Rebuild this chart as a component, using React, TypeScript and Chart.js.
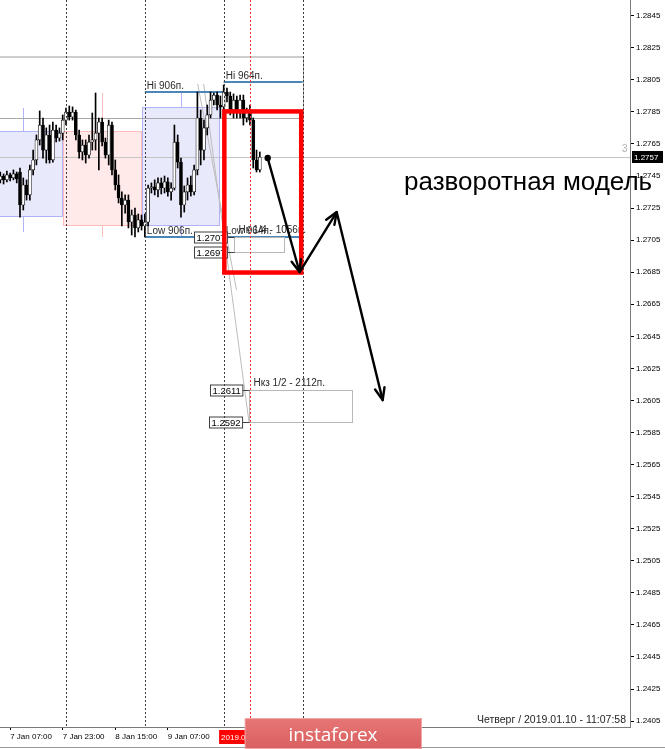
import React, { useEffect, useRef } from 'react';
import { Chart, registerables } from 'chart.js';

Chart.register(...registerables);

// Hourly GBPUSD bars; hours are counted from 7 Jan 2019 00:00
const barHours = [
  4, 5, 6, 7, 8, 9, 10, 11, 12, 13,
  14, 15, 16, 17, 18, 19, 20, 21, 22, 23,
  24, 25, 26, 27, 28, 29, 30, 31, 32, 33,
  34, 35, 36, 37, 38, 39, 40, 41, 42, 43,
  44, 45, 46, 47, 48, 49, 50, 51, 52, 53,
  54, 55, 56, 57, 58, 59, 60, 61, 62, 63,
  64, 65, 66, 67, 68, 69, 70, 71, 72, 73,
  74, 75, 76, 77, 78, 79, 80, 81, 82, 83,
];
const barOpen = [
  1.27426, 1.2745, 1.27426, 1.27457, 1.27438, 1.27463, 1.27475, 1.27269, 1.27394, 1.27332,
  1.27488, 1.2755, 1.27675, 1.27768, 1.27612, 1.27706, 1.2755, 1.27737, 1.27687, 1.27718,
  1.27799, 1.27849, 1.27818, 1.27849, 1.27706, 1.276, 1.27643, 1.27581, 1.27662, 1.27675,
  1.27718, 1.27787, 1.27662, 1.27581, 1.27768, 1.27488, 1.27394, 1.27313, 1.27269, 1.273,
  1.27163, 1.27207, 1.27126, 1.27176, 1.27138, 1.27163, 1.27375, 1.27382, 1.27363, 1.27407,
  1.27375, 1.27413, 1.27351, 1.27375, 1.27662, 1.27537, 1.27269, 1.27351, 1.27394, 1.27351,
  1.27488, 1.27812, 1.27612, 1.2775, 1.27831, 1.27924, 1.27955, 1.27893, 1.27881, 1.27974,
  1.27949, 1.27862, 1.27924, 1.27849, 1.27924, 1.27812, 1.27849, 1.27799, 1.2755, 1.27488,
];
const barHigh = [
  1.27475, 1.27463, 1.27481, 1.27469, 1.27488, 1.27475, 1.275, 1.27438, 1.27426, 1.27519,
  1.27612, 1.27706, 1.27856, 1.27812, 1.2775, 1.27768, 1.27787, 1.27768, 1.2775, 1.27831,
  1.27874, 1.27887, 1.27881, 1.27862, 1.27737, 1.27675, 1.27675, 1.27706, 1.27843, 1.27968,
  1.27812, 1.27812, 1.27687, 1.27799, 1.27787, 1.2755, 1.27457, 1.27351, 1.27332, 1.27332,
  1.27238, 1.2725, 1.27213, 1.27207, 1.27213, 1.27394, 1.27407, 1.27426, 1.27438, 1.27438,
  1.2745, 1.27438, 1.27407, 1.27768, 1.27706, 1.27562, 1.27388, 1.27438, 1.2745, 1.27519,
  1.27974, 1.27862, 1.27799, 1.27893, 1.27974, 1.27968, 1.27974, 1.27949, 1.28018, 1.27999,
  1.27974, 1.27962, 1.27949, 1.27955, 1.27955, 1.27874, 1.27893, 1.27812, 1.27612, 1.276,
];
const barLow = [
  1.27407, 1.274, 1.27413, 1.27419, 1.27426, 1.27407, 1.27194, 1.27238, 1.273, 1.273,
  1.27457, 1.27519, 1.27643, 1.27562, 1.27531, 1.27531, 1.27537, 1.27662, 1.27668, 1.27675,
  1.27768, 1.27799, 1.27799, 1.27675, 1.27562, 1.2755, 1.27531, 1.27562, 1.27612, 1.27612,
  1.27488, 1.27637, 1.27562, 1.27519, 1.27457, 1.27363, 1.27282, 1.27138, 1.27219, 1.27126,
  1.27082, 1.2707, 1.27101, 1.27113, 1.2707, 1.27138, 1.27344, 1.27332, 1.27319, 1.27338,
  1.27344, 1.27325, 1.273, 1.27363, 1.275, 1.27194, 1.27225, 1.273, 1.27325, 1.27332,
  1.27457, 1.27519, 1.2755, 1.27706, 1.27812, 1.27893, 1.27862, 1.27812, 1.27812, 1.27912,
  1.27831, 1.27812, 1.27812, 1.27812, 1.27768, 1.27787, 1.27768, 1.275, 1.27475, 1.27475,
];
const barClose = [
  1.2745, 1.27426, 1.27457, 1.27438, 1.27463, 1.27432, 1.27269, 1.27394, 1.27332, 1.27488,
  1.2755, 1.27675, 1.27768, 1.27612, 1.27706, 1.2755, 1.27737, 1.27687, 1.27718, 1.27799,
  1.27849, 1.27818, 1.27849, 1.27706, 1.276, 1.27643, 1.27581, 1.27662, 1.27675, 1.27718,
  1.27787, 1.27662, 1.27581, 1.27768, 1.27488, 1.27394, 1.27313, 1.27269, 1.273, 1.27163,
  1.27207, 1.27126, 1.27176, 1.27138, 1.27163, 1.27375, 1.27382, 1.27363, 1.27407, 1.27375,
  1.27413, 1.27351, 1.27375, 1.27662, 1.27537, 1.27269, 1.27351, 1.27394, 1.27351, 1.27488,
  1.27812, 1.27612, 1.2775, 1.27831, 1.27924, 1.27955, 1.27893, 1.27881, 1.27974, 1.27949,
  1.27862, 1.27924, 1.27849, 1.27924, 1.27812, 1.27849, 1.27799, 1.2755, 1.27488, 1.27568,
];

// Daily ranges drawn behind the bars
const dayFrom = [-1, 23, 47];
const dayTo = [23, 47, 71];
const dayOpen = [1.27194, 1.27731, 1.27138];
const dayClose = [1.27731, 1.27138, 1.27881];
const dayHigh = [1.27874, 1.27968, 1.27974];
const dayLow = [1.27101, 1.2707, 1.2707];

// Projected daily high / low levels
const levelFrom = [48, 72];
const levelTo = [72, 96];
const levelHigh = [1.27974, 1.28036];
const levelLow = [1.2707, 1.2707];
const levelHighText = ['Hi 906п.', 'Hi 964п.'];
const levelLowText = ['Low 906п.', 'Low 964п.'];

// Previous range frame
const frameTo = 96;
const frameTop = 1.28192;
const frameBottom = 1.27812;

// Target zones
const zoneFrom = [75, 79.8];
const zoneTo = [90.5, 111];
const zoneTop = [1.2707, 1.26115];
const zoneBottom = [1.26975, 1.25917];
const zoneTopText = ['1.2707', '1.2611'];
const zoneBottomText = ['1.2697', '1.2592'];
const zoneTitle = ['Нк 1/4 - 1056п.', 'Нкз 1/2 - 2112п.'];

// Thin projection lines from the session high
const rayHourA = [64.1, 75.9];
const rayPriceA = [1.28024, 1.2674];
const rayHourB = [65.9, 79.7];
const rayPriceB = [1.28024, 1.25917];

// Highlighted reversal window
const boxHours = [72.2, 95.6];
const boxPrices = [1.27853, 1.26848];

// Expected path
const pathHours = [85.4, 95.1, 106.4, 120.4];
const pathPrices = [1.27562, 1.26851, 1.27225, 1.26052];

const separatorHours = [24, 48, 72, 96];
const markerHour = 80;
const bidPrice = 1.27568;

const priceTicks = [
  1.2405, 1.2425, 1.2445, 1.2465, 1.2485, 1.2505, 1.2525, 1.2545, 1.2565, 1.2585,
  1.2605, 1.2625, 1.2645, 1.2665, 1.2685, 1.2705, 1.2725, 1.2745, 1.2765, 1.2785,
  1.2805, 1.2825, 1.2845,
];
const timeTicks = [7, 23, 39, 55];
const timeLabels = ['7 Jan 07:00', '7 Jan 23:00', '8 Jan 15:00', '9 Jan 07:00'];
const currentTimeHour = 70.6;
const currentTimeText = '2019.01.10 00:00';
const statusText = 'Четверг / 2019.01.10 - 11:07:58';
const captionText = 'разворотная модель';

const FONT = '"Liberation Sans", Arial, sans-serif';

function arrowHead(ctx: CanvasRenderingContext2D, x0: number, y0: number, x1: number, y1: number) {
  const a = Math.atan2(y1 - y0, x1 - x0);
  const len = 13;
  const spread = 0.38;
  ctx.beginPath();
  ctx.moveTo(x1 - len * Math.cos(a - spread), y1 - len * Math.sin(a - spread));
  ctx.lineTo(x1, y1);
  ctx.lineTo(x1 - len * Math.cos(a + spread), y1 - len * Math.sin(a + spread));
  ctx.stroke();
}

const backdrop = {
  id: 'backdrop',
  beforeDatasetsDraw(chart: any) {
    const { ctx, chartArea: a, scales } = chart;
    const X = (v: number) => scales.x.getPixelForValue(v);
    const Y = (v: number) => scales.y.getPixelForValue(v);
    ctx.save();
    ctx.beginPath();
    ctx.rect(a.left, a.top, a.right - a.left, a.bottom - a.top);
    ctx.clip();

    // daily candles in the background
    for (let i = 0; i < dayFrom.length; i++) {
      const up = dayClose[i] >= dayOpen[i];
      const x0 = Math.round(X(dayFrom[i]));
      const x1 = Math.round(X(dayTo[i]));
      const yt = Math.round(Y(Math.max(dayOpen[i], dayClose[i])));
      const yb = Math.round(Y(Math.min(dayOpen[i], dayClose[i])));
      ctx.fillStyle = up ? '#e9e9fc' : '#ffe9e9';
      ctx.fillRect(x0, yt, x1 - x0, yb - yt);
      ctx.strokeStyle = up ? '#b2b2f6' : '#ffbcbc';
      ctx.lineWidth = 1;
      ctx.strokeRect(x0 + 0.5, yt + 0.5, x1 - x0 - 1, yb - yt - 1);
      const xm = Math.round(X((dayFrom[i] + dayTo[i]) / 2)) + 0.5;
      ctx.beginPath();
      ctx.moveTo(xm, Y(dayHigh[i]));
      ctx.lineTo(xm, yt);
      ctx.moveTo(xm, yb);
      ctx.lineTo(xm, Y(dayLow[i]));
      ctx.stroke();
    }

    // previous range frame
    const fx = Math.round(X(frameTo)) + 0.5;
    ctx.strokeStyle = '#cdcdcd';
    ctx.lineWidth = 2;
    ctx.beginPath();
    ctx.moveTo(a.left, Math.round(Y(frameTop)));
    ctx.lineTo(fx, Math.round(Y(frameTop)));
    ctx.stroke();
    ctx.strokeStyle = '#a8a8a8';
    ctx.lineWidth = 1;
    ctx.beginPath();
    ctx.moveTo(a.left, Math.round(Y(frameBottom)) + 0.5);
    ctx.lineTo(fx, Math.round(Y(frameBottom)) + 0.5);
    ctx.moveTo(fx, Y(frameTop));
    ctx.lineTo(fx, Y(frameBottom));
    ctx.stroke();

    // bid line
    ctx.strokeStyle = '#c4c4c4';
    ctx.beginPath();
    ctx.moveTo(a.left, Math.round(Y(bidPrice)) + 0.5);
    ctx.lineTo(a.right, Math.round(Y(bidPrice)) + 0.5);
    ctx.stroke();

    // projection rays
    ctx.strokeStyle = '#bdbdbd';
    ctx.beginPath();
    ctx.moveTo(X(rayHourA[0]), Y(rayPriceA[0]));
    ctx.lineTo(X(rayHourA[1]), Y(rayPriceA[1]));
    ctx.moveTo(X(rayHourB[0]), Y(rayPriceB[0]));
    ctx.lineTo(X(rayHourB[1]), Y(rayPriceB[1]));
    ctx.stroke();

    // high / low levels
    ctx.strokeStyle = '#4a86b8';
    ctx.lineWidth = 2;
    for (let i = 0; i < levelFrom.length; i++) {
      ctx.beginPath();
      ctx.moveTo(X(levelFrom[i]), Math.round(Y(levelHigh[i])));
      ctx.lineTo(X(levelTo[i]), Math.round(Y(levelHigh[i])));
      ctx.moveTo(X(levelFrom[i]), Math.round(Y(levelLow[i])));
      ctx.lineTo(X(levelTo[i]), Math.round(Y(levelLow[i])));
      ctx.stroke();
    }
    ctx.restore();
  },
};

const overlay = {
  id: 'overlay',
  afterDraw(chart: any) {
    const { ctx, chartArea: a, scales } = chart;
    const X = (v: number) => scales.x.getPixelForValue(v);
    const Y = (v: number) => scales.y.getPixelForValue(v);
    ctx.save();

    // level captions
    ctx.fillStyle = '#2a2a2a';
    ctx.font = `10px ${FONT}`;
    ctx.textAlign = 'left';
    ctx.textBaseline = 'alphabetic';
    for (let i = 0; i < levelFrom.length; i++) {
      const x = X(levelFrom[i]) + 2;
      ctx.fillText(levelHighText[i], x, Y(levelHigh[i]) - 3);
      ctx.fillText(levelLowText[i], x, Y(levelLow[i]) - 3);
    }

    // target zones with their price tags
    for (let i = 0; i < zoneFrom.length; i++) {
      const x0 = Math.round(X(zoneFrom[i])) + 0.5;
      const x1 = Math.round(X(zoneTo[i])) + 0.5;
      const yt = Math.round(Y(zoneTop[i])) + 0.5;
      const yb = Math.round(Y(zoneBottom[i])) + 0.5;
      ctx.strokeStyle = '#b8b8b8';
      ctx.lineWidth = 1;
      ctx.strokeRect(x0, yt, x1 - x0, yb - yt);
      ctx.fillStyle = '#2a2a2a';
      ctx.font = `10px ${FONT}`;
      ctx.fillText(zoneTitle[i], x0 + 4, yt - 5);
      ctx.font = `9.5px ${FONT}`;
      const tags = [
        [zoneTopText[i], yt],
        [zoneBottomText[i], yb],
      ] as [string, number][];
      for (const [t, yy] of tags) {
        const w = ctx.measureText(t).width + 4;
        const rx = Math.round(x0 - 7 - w) + 0.5;
        ctx.fillStyle = '#ffffff';
        ctx.fillRect(rx, yy - 5.5, w, 11);
        ctx.strokeStyle = '#404040';
        ctx.strokeRect(rx, yy - 5.5, w, 11);
        ctx.beginPath();
        ctx.moveTo(rx + w, yy);
        ctx.lineTo(x0, yy);
        ctx.stroke();
        ctx.fillStyle = '#000';
        ctx.textBaseline = 'middle';
        ctx.fillText(t, rx + 2, yy + 0.5);
        ctx.textBaseline = 'alphabetic';
      }
    }

    // day separators and the time marker
    ctx.lineWidth = 1;
    ctx.setLineDash([2, 2]);
    ctx.strokeStyle = '#3a3a3a';
    for (const h of separatorHours) {
      const x = Math.round(X(h)) + 0.5;
      ctx.beginPath();
      ctx.moveTo(x, a.top);
      ctx.lineTo(x, a.bottom);
      ctx.stroke();
    }
    ctx.strokeStyle = '#ff3030';
    const mx = Math.round(X(markerHour)) + 0.5;
    ctx.beginPath();
    ctx.moveTo(mx, a.top);
    ctx.lineTo(mx, a.bottom);
    ctx.stroke();
    ctx.setLineDash([]);

    // reversal window
    ctx.strokeStyle = '#ff0000';
    ctx.lineWidth = 4.5;
    ctx.strokeRect(X(boxHours[0]), Y(boxPrices[0]), X(boxHours[1]) - X(boxHours[0]), Y(boxPrices[1]) - Y(boxPrices[0]));

    // expected path
    ctx.strokeStyle = '#000';
    ctx.fillStyle = '#000';
    ctx.lineWidth = 2.4;
    ctx.lineCap = 'round';
    ctx.lineJoin = 'round';
    const px = pathHours.map(X);
    const py = pathPrices.map(Y);
    ctx.beginPath();
    ctx.moveTo(px[0], py[0]);
    for (let i = 1; i < px.length; i++) ctx.lineTo(px[i], py[i]);
    ctx.stroke();
    for (let i = 1; i < px.length; i++) arrowHead(ctx, px[i - 1], py[i - 1], px[i], py[i]);
    ctx.beginPath();
    ctx.arc(px[0], py[0], 3.2, 0, Math.PI * 2);
    ctx.fill();

    // bid tag on the price axis
    const by = Math.round(Y(bidPrice));
    ctx.fillStyle = '#000';
    ctx.fillRect(a.right + 2, by - 6, 31, 12);
    ctx.fillStyle = '#fff';
    ctx.font = `8px ${FONT}`;
    ctx.textBaseline = 'middle';
    ctx.fillText(bidPrice.toFixed(4), a.right + 4, by + 0.5);
    ctx.fillStyle = '#b0b0b0';
    ctx.font = `10px ${FONT}`;
    ctx.fillText('3', a.right - 8, by - 8);

    // current time tag
    const tx = X(currentTimeHour);
    ctx.fillStyle = '#ff0000';
    ctx.fillRect(tx, a.bottom + 3, 60, 14);
    ctx.fillStyle = '#fff';
    ctx.font = `8px ${FONT}`;
    ctx.fillText(currentTimeText, tx + 2, a.bottom + 10.5);

    // status line
    ctx.fillStyle = '#1e1e1e';
    ctx.font = `10.5px ${FONT}`;
    ctx.textAlign = 'right';
    ctx.textBaseline = 'alphabetic';
    ctx.fillText(statusText, a.right - 4, a.bottom - 4);

    // caption
    ctx.textAlign = 'left';
    ctx.fillStyle = '#000';
    ctx.font = `26px ${FONT}`;
    ctx.fillText(captionText, 404, 190);

    // broker badge
    const g = ctx.createLinearGradient(0, 718, 0, 749);
    g.addColorStop(0, '#e77676');
    g.addColorStop(1, '#d95f5f');
    ctx.fillStyle = g;
    ctx.fillRect(245, 718, 177, 31);
    ctx.strokeStyle = '#f0a8a8';
    ctx.lineWidth = 1;
    ctx.strokeRect(245.5, 718.5, 176, 30);
    ctx.fillStyle = '#ffffff';
    ctx.font = '19px "Open Sans", sans-serif';
    ctx.textAlign = 'center';
    ctx.fillText('instaforex', 333, 741);

    // window frame line
    ctx.strokeStyle = '#9a9a9a';
    ctx.beginPath();
    ctx.moveTo(0, 747.5);
    ctx.lineTo(245, 747.5);
    ctx.moveTo(422, 747.5);
    ctx.lineTo(665, 747.5);
    ctx.stroke();
    ctx.restore();
  },
};

export default function App() {
  const ref = useRef<HTMLCanvasElement>(null);

  useEffect(() => {
    const canvas = ref.current;
    if (!canvas) return;
    const bodies = barHours.map((h, i) => ({ x: h, y: [barOpen[i], barClose[i]] }));
    const wicks = barHours.map((h, i) => ({ x: h, y: [barLow[i], barHigh[i]] }));
    const bodyFill = barHours.map((_, i) => (barClose[i] >= barOpen[i] ? '#ffffff' : '#000000'));

    const chart = new Chart(canvas, {
      type: 'bar',
      data: {
        datasets: [
          {
            data: bodies as any,
            backgroundColor: bodyFill,
            borderColor: '#000000',
            borderWidth: 0.7,
            borderSkipped: false,
            barThickness: 3,
            minBarLength: 1,
            grouped: false,
            order: 0,
          },
          {
            data: wicks as any,
            backgroundColor: '#000000',
            borderWidth: 0,
            barThickness: 1,
            grouped: false,
            order: 1,
          },
        ],
      },
      options: {
        animation: false,
        responsive: false,
        devicePixelRatio: 1,
        layout: { padding: 0 },
        plugins: { legend: { display: false }, tooltip: { enabled: false } },
        scales: {
          x: {
            type: 'linear',
            min: 3.909,
            max: 195.69,
            offset: false,
            grid: { display: true, drawOnChartArea: false, drawTicks: true, tickLength: 3, color: '#000', offset: false },
            border: { display: true, color: '#7a7a7a' },
            ticks: {
              align: 'start',
              autoSkip: false,
              maxRotation: 0,
              padding: 2,
              color: '#000',
              font: { family: FONT, size: 8 },
              callback: (_v: any, i: number) => timeLabels[i],
            },
            afterBuildTicks: (s: any) => {
              s.ticks = timeTicks.map((v) => ({ value: v }));
            },
            afterFit: (s: any) => {
              s.height = 22;
              s.paddingLeft = 0;
              s.paddingRight = 0;
            },
          },
          y: {
            type: 'linear',
            position: 'right',
            min: 1.24013,
            max: 1.28548,
            grid: { display: true, drawOnChartArea: false, drawTicks: true, tickLength: 4, color: '#000' },
            border: { display: true, color: '#7a7a7a' },
            ticks: {
              padding: 2,
              color: '#000',
              font: { family: FONT, size: 8 },
              callback: (v: any) => Number(v).toFixed(4),
            },
            afterBuildTicks: (s: any) => {
              s.ticks = priceTicks.map((v) => ({ value: v }));
            },
            afterFit: (s: any) => {
              s.width = 35;
              s.paddingTop = 0;
              s.paddingBottom = 0;
            },
          },
        },
      } as any,
      plugins: [backdrop, overlay],
    });
    return () => chart.destroy();
  }, []);

  return (
    <div style={{ position: 'absolute', left: 0, top: 0, width: 665, height: 749, background: '#ffffff' }}>
      <canvas ref={ref} width={665} height={749} style={{ display: 'block' }} />
    </div>
  );
}
